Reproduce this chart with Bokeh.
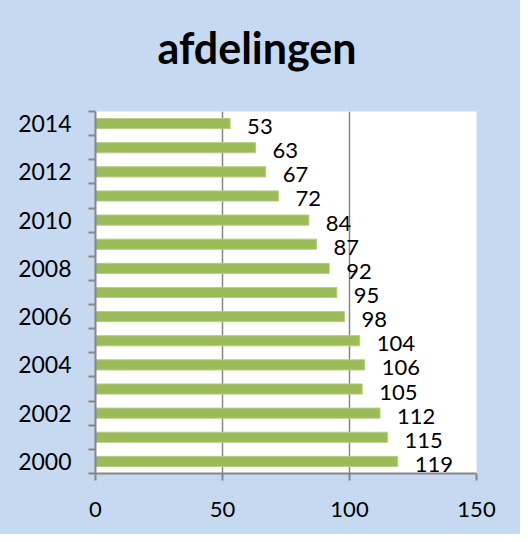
from bokeh.plotting import figure
from bokeh.models import Range1d, FixedTicker, ColumnDataSource, Div
from bokeh.layouts import column
from bokeh.core.properties import value
from bokeh.embed import file_html
from bokeh.resources import INLINE

years = [2000, 2001, 2002, 2003, 2004, 2005, 2006, 2007, 2008, 2009, 2010, 2011, 2012, 2013, 2014]
counts = [119, 115, 112, 105, 106, 104, 98, 95, 92, 87, 84, 72, 67, 63, 53]
year_ticks = [2000, 2002, 2004, 2006, 2008, 2010, 2012, 2014]
x_ticks = [0, 50, 100, 150]
title_text = "afdelingen"

BLUE = "#C6D9F1"
GREEN = "#9BBB59"
GRAY = "#868686"
FONT = "Lato"

src = ColumnDataSource(dict(y=years, v=counts, lbl=[str(c) for c in counts]))

head = Div(
    text=(f'<div style="font-family:{FONT};font-weight:bold;font-size:43px;line-height:43px;'
          f'padding-top:26px;padding-right:3px;text-align:center;color:black;width:517px;">{title_text}</div>'),
    width=520, height=80, margin=0,
    styles={"background-color": BLUE, "margin": "0", "padding": "0"})

p = figure(width=520, height=454, output_backend="svg", toolbar_location=None,
           x_range=Range1d(0, 150), y_range=Range1d(years[0] - 0.5, years[-1] + 0.5),
           min_border_left=95, min_border_right=44, min_border_top=31, min_border_bottom=61,
           margin=0)

p.border_fill_color = BLUE
p.background_fill_color = "white"
p.outline_line_color = None

p.hbar(y="y", right="v", left=0, height=0.42, source=src, fill_color=GREEN,
       line_color="#B5CC85", line_width=1)
p.text(x="v", y="y", text="lbl", source=src, x_offset=17, y_offset=3,
       text_baseline="middle", text_align="left", text_font=value(FONT),
       text_font_size="22px", text_color="black")

# x axis
p.xaxis.ticker = FixedTicker(ticks=x_ticks)
p.xaxis.axis_line_color = GRAY
p.xaxis.axis_line_width = 2
p.xaxis.major_tick_line_color = GRAY
p.xaxis.major_tick_line_width = 2
p.xaxis.major_tick_out = 7
p.xaxis.major_tick_in = 0
p.xaxis.minor_tick_line_color = None
p.xaxis.major_label_text_font = FONT
p.xaxis.major_label_text_font_size = "22px"
p.xaxis.major_label_text_color = "black"
p.xaxis.major_label_standoff = 21

# y axis
p.yaxis.ticker = FixedTicker(ticks=year_ticks, minor_ticks=[y - 0.5 for y in years] + [years[-1] + 0.5])
p.yaxis.axis_line_color = GRAY
p.yaxis.axis_line_width = 2
p.yaxis.major_tick_line_color = None
p.yaxis.major_tick_out = 0
p.yaxis.major_tick_in = 0
p.yaxis.minor_tick_line_color = GRAY
p.yaxis.minor_tick_line_width = 2
p.yaxis.minor_tick_out = 7
p.yaxis.minor_tick_in = 0
p.yaxis.major_label_text_font = FONT
p.yaxis.major_label_text_font_size = "23px"
p.yaxis.major_label_text_color = "black"
p.yaxis.major_label_standoff = 17

p.xgrid.ticker = FixedTicker(ticks=x_ticks[1:])
p.xgrid.grid_line_color = GRAY
p.xgrid.grid_line_width = 1.5
p.ygrid.grid_line_color = None

layout = column(head, p, spacing=0, margin=0, styles={"background-color": BLUE})
open("out.html", "w").write(file_html(layout, INLINE))
